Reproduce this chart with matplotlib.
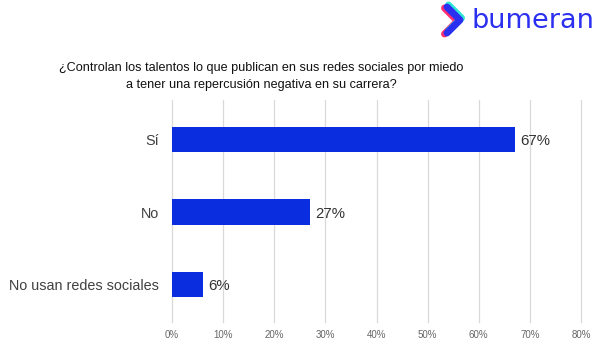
import matplotlib
matplotlib.use("Agg")
import matplotlib.pyplot as plt
from matplotlib.lines import Line2D

categories = ["Sí", "No", "No usan redes sociales"]
values = [67, 27, 6]
xticks = [0, 10, 20, 30, 40, 50, 60, 70, 80]
xtick_labels = ["0%", "10%", "20%", "30%", "40%", "50%", "60%", "70%", "80%"]
title = "¿Controlan los talentos lo que publican en sus redes sociales por miedo\na tener una repercusión negativa en su carrera?"

plt.rcParams['font.family'] = ['Liberation Sans', 'DejaVu Sans']

W, H = 602, 345
fig = plt.figure(figsize=(W / 100, H / 100), dpi=100)
fig.patch.set_facecolor("white")

ax = fig.add_axes([172 / W, 1 - 322 / H, (581 - 172) / W, (322 - 100) / H])
ypos = list(range(len(categories)))
bars = ax.barh(ypos, values, height=0.35, color="#0b2de0")
ax.set_ylim(2.52, -0.55)
ax.set_xlim(0, 80)
ax.set_xticks(xticks)
ax.set_xticklabels(xtick_labels, fontsize=7, color="#666666")
ax.set_yticks(ypos)
ax.set_yticklabels(categories, fontsize=10.4, color="#404040")
ax.tick_params(axis="y", length=0, pad=9.5)
ax.tick_params(axis="x", length=0, pad=6)
ax.grid(axis="x", color="#d9d9d9", linewidth=0.9)
for gl in ax.get_xgridlines():
    gl.set_clip_on(False)
ax.set_axisbelow(True)
for s in ax.spines.values():
    s.set_visible(False)

for b, v in zip(bars, values):
    ax.text(v + 1.1, b.get_y() + b.get_height() / 2 + 0.02, f"{v}%", va="center", ha="left",
            fontsize=10.8, color="#333333")

fig.text(261 / W, 1 - 76.5 / H, title, ha="center", va="center", fontsize=9.1,
         color="#111111", linespacing=1.65)

# logo
def fx(x):
    return x / W

def fy(y):
    return 1 - y / H

def chevron(dx, dy, color, lw):
    xs = [447 + dx, 460 + dx, 447 + dx]
    ys = [7 + dy, 20 + dy, 33 + dy]
    fig.add_artist(Line2D([fx(x) for x in xs], [fy(y) for y in ys], color=color,
                          linewidth=lw, solid_capstyle="round", solid_joinstyle="round"))

chevron(-2.5, 1, "#ff2d6f", 5)
chevron(1.5, -2, "#2ee6d6", 5)
chevron(0, 0, "#2a2ff0", 5)

fig.text(fx(471), fy(28), "bumeran", ha="left", va="baseline", fontsize=19.5,
         color="#2a2ff0", family=["DejaVu Sans"])

fig.savefig("out.png", dpi=100, facecolor="white")
